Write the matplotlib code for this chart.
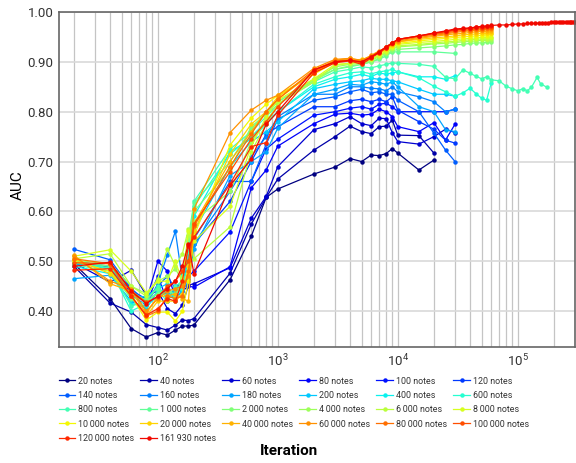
import numpy as np
import matplotlib
matplotlib.use("Agg")
import matplotlib.pyplot as plt
from matplotlib.ticker import FixedLocator, FormatStrFormatter

plt.rcParams['font.family'] = ['Liberation Sans Narrow', 'Roboto', 'DejaVu Sans']

# iterations shared by all runs
iters = [20, 40, 60, 80, 100, 120, 140, 160, 180, 200, 400, 600, 800, 1000,
         2000, 3000, 4000, 5000, 6000, 7000, 8000, 9000, 10000]
tail_20k = [15000, 20000]
tail_30k = [15000, 20000, 25000, 30000]
tail_30k_sparse = [20000, 30000]
tail_60k = [15000, 20000, 25000, 30000, 35000, 40000, 45000, 50000, 55000, 60000]
tail_175k = tail_60k + [70000, 80000, 90000, 100000, 110000, 120000, 130000,
                        145000, 155000, 175000]
tail_300k = tail_60k + [70000, 80000, 90000, 100000, 110000, 120000, 130000,
                        140000, 150000, 160000, 170000, 180000, 190000, 200000,
                        210000, 220000, 230000, 240000, 250000, 260000, 270000,
                        280000, 290000, 300000]

labels = ['20 notes', '40 notes', '60 notes', '80 notes', '100 notes', '120 notes',
          '140 notes', '160 notes', '180 notes', '200 notes', '400 notes', '600 notes',
          '800 notes', '1\u2009000 notes', '2\u2009000 notes', '4\u2009000 notes',
          '6\u2009000 notes', '8\u2009000 notes', '10\u2009000 notes', '20\u2009000 notes',
          '40\u2009000 notes', '60\u2009000 notes', '80\u2009000 notes',
          '100\u2009000 notes', '120\u2009000 notes', '161\u2009930 notes']

auc_20 = [0.495, 0.425, 0.365, 0.348, 0.357, 0.352, 0.362, 0.370, 0.370, 0.372,
          0.463, 0.550, 0.628, 0.645, 0.675, 0.689, 0.706, 0.700, 0.713, 0.712,
          0.716, 0.726, 0.717,
          0.683, 0.703]
auc_40 = [0.490, 0.416, 0.398, 0.373, 0.367, 0.362, 0.372, 0.382, 0.381, 0.385,
          0.476, 0.574, 0.628, 0.665, 0.723, 0.750, 0.771, 0.760, 0.756, 0.770,
          0.771, 0.783, 0.753,
          0.752, 0.717]
auc_60 = [0.497, 0.458, 0.482, 0.432, 0.440, 0.405, 0.395, 0.412, 0.452, 0.455,
          0.487, 0.586, 0.630, 0.690, 0.764, 0.776, 0.790, 0.776, 0.772, 0.787,
          0.786, 0.758, 0.740,
          0.735, 0.750, 0.765, 0.758]
auc_80 = [0.493, 0.497, 0.435, 0.420, 0.500, 0.480, 0.425, 0.440, 0.450, 0.448,
          0.489, 0.647, 0.683, 0.731, 0.776, 0.795, 0.797, 0.793, 0.795, 0.805,
          0.800, 0.790, 0.770,
          0.760, 0.778, 0.743, 0.775]
auc_100 = [0.500, 0.488, 0.445, 0.415, 0.470, 0.420, 0.450, 0.455, 0.470, 0.480,
           0.559, 0.660, 0.725, 0.745, 0.793, 0.800, 0.807, 0.810, 0.805, 0.815,
           0.817, 0.810, 0.800,
           0.800, 0.800, 0.800, 0.805]
auc_120 = [0.497, 0.485, 0.440, 0.425, 0.445, 0.435, 0.430, 0.450, 0.465, 0.535,
           0.620, 0.700, 0.755, 0.770, 0.810, 0.810, 0.822, 0.825, 0.820, 0.825,
           0.820, 0.830, 0.803,
           0.780, 0.765, 0.743, 0.737]
auc_140 = [0.524, 0.503, 0.445, 0.420, 0.450, 0.470, 0.445, 0.455, 0.500, 0.545,
           0.660, 0.660, 0.735, 0.785, 0.823, 0.830, 0.840, 0.845, 0.838, 0.840,
           0.835, 0.835, 0.823,
           0.800, 0.757, 0.723, 0.700]
auc_160 = [0.500, 0.490, 0.432, 0.412, 0.455, 0.513, 0.560, 0.463, 0.510, 0.535,
           0.640, 0.710, 0.750, 0.790, 0.835, 0.835, 0.850, 0.850, 0.847, 0.846,
           0.842, 0.850, 0.840,
           0.830, 0.820, 0.800, 0.805]
auc_180 = [0.465, 0.472, 0.420, 0.405, 0.440, 0.435, 0.425, 0.440, 0.460, 0.525,
           0.672, 0.700, 0.720, 0.767, 0.835, 0.845, 0.855, 0.853, 0.860, 0.858,
           0.855, 0.860, 0.850,
           0.810, 0.800, 0.764, 0.760]
auc_200 = [0.495, 0.490, 0.425, 0.430, 0.445, 0.455, 0.420, 0.445, 0.470, 0.560,
           0.690, 0.740, 0.760, 0.780, 0.846, 0.855, 0.860, 0.862, 0.867, 0.865,
           0.865, 0.862, 0.860,
           0.845, 0.835, 0.835, 0.831]
auc_400 = [0.490, 0.475, 0.415, 0.410, 0.430, 0.440, 0.435, 0.455, 0.540, 0.590,
           0.720, 0.745, 0.775, 0.800, 0.850, 0.865, 0.870, 0.875, 0.870, 0.878,
           0.875, 0.878, 0.880,
           0.870, 0.870, 0.865, 0.872]
auc_600 = [0.497, 0.485, 0.400, 0.415, 0.440, 0.420, 0.440, 0.445, 0.500, 0.610,
           0.715, 0.750, 0.780, 0.800, 0.855, 0.870, 0.878, 0.880, 0.876, 0.880,
           0.882, 0.885, 0.880,
           0.868, 0.851, 0.840, 0.831, 0.838, 0.847, 0.836, 0.827, 0.823, 0.857]
auc_800 = [0.500, 0.486, 0.410, 0.420, 0.450, 0.425, 0.450, 0.460, 0.520, 0.620,
           0.725, 0.760, 0.790, 0.815, 0.860, 0.880, 0.885, 0.890, 0.888, 0.892,
           0.895, 0.898, 0.897,
           0.895, 0.891, 0.869, 0.866, 0.884, 0.877, 0.871, 0.866, 0.870, 0.864,
           0.862, 0.851, 0.846, 0.842, 0.846, 0.842, 0.849, 0.869, 0.856, 0.849]
auc_1k = [0.493, 0.480, 0.425, 0.425, 0.445, 0.430, 0.425, 0.470, 0.550, 0.617,
          0.700, 0.765, 0.800, 0.820, 0.865, 0.885, 0.890, 0.895, 0.900, 0.905,
          0.912, 0.920, 0.920,
          0.920, 0.917]
auc_2k = [0.500, 0.490, 0.440, 0.420, 0.435, 0.445, 0.430, 0.465, 0.545, 0.600,
          0.685, 0.770, 0.795, 0.820, 0.862, 0.885, 0.892, 0.895, 0.900, 0.907,
          0.915, 0.922, 0.925,
          0.928, 0.930, 0.932, 0.934, 0.935, 0.937, 0.938, 0.938, 0.939, 0.940]
auc_4k = [0.502, 0.495, 0.450, 0.435, 0.460, 0.470, 0.485, 0.460, 0.550, 0.580,
          0.640, 0.740, 0.780, 0.815, 0.865, 0.890, 0.895, 0.897, 0.903, 0.910,
          0.918, 0.925, 0.930,
          0.933, 0.936, 0.937, 0.939, 0.940, 0.941, 0.942, 0.943, 0.943, 0.944]
auc_6k = [0.505, 0.515, 0.450, 0.430, 0.465, 0.525, 0.490, 0.515, 0.565, 0.505,
          0.569, 0.720, 0.775, 0.815, 0.860, 0.893, 0.897, 0.900, 0.905, 0.912,
          0.920, 0.927, 0.932,
          0.935, 0.938, 0.940, 0.941, 0.943, 0.944, 0.945, 0.946, 0.946, 0.947]
auc_8k = [0.510, 0.523, 0.480, 0.437, 0.460, 0.460, 0.500, 0.460, 0.560, 0.540,
          0.610, 0.730, 0.790, 0.823, 0.866, 0.895, 0.897, 0.900, 0.906, 0.914,
          0.922, 0.930, 0.935,
          0.939, 0.941, 0.943, 0.945, 0.946, 0.947, 0.948, 0.949, 0.949, 0.950]
auc_10k = [0.500, 0.480, 0.430, 0.382, 0.398, 0.398, 0.380, 0.400, 0.460, 0.550,
           0.733, 0.787, 0.815, 0.833, 0.875, 0.900, 0.905, 0.903, 0.910, 0.918,
           0.925, 0.932, 0.937,
           0.942, 0.945, 0.947, 0.949, 0.950, 0.951, 0.952, 0.953, 0.954, 0.955]
auc_20k = [0.505, 0.475, 0.430, 0.390, 0.420, 0.420, 0.420, 0.435, 0.490, 0.560,
           0.715, 0.775, 0.800, 0.830, 0.878, 0.900, 0.903, 0.905, 0.910, 0.917,
           0.925, 0.933, 0.940,
           0.945, 0.948, 0.950, 0.952, 0.954, 0.955, 0.956, 0.957, 0.957, 0.958]
auc_40k = [0.512, 0.455, 0.440, 0.395, 0.430, 0.430, 0.435, 0.425, 0.420, 0.575,
           0.700, 0.760, 0.800, 0.825, 0.880, 0.903, 0.907, 0.902, 0.912, 0.920,
           0.928, 0.935, 0.940,
           0.947, 0.951, 0.954, 0.956, 0.957, 0.959, 0.960, 0.961, 0.961, 0.962]
auc_60k = [0.510, 0.460, 0.445, 0.400, 0.425, 0.440, 0.445, 0.450, 0.470, 0.605,
           0.758, 0.803, 0.823, 0.833, 0.887, 0.905, 0.907, 0.903, 0.913, 0.922,
           0.928, 0.936, 0.942,
           0.949, 0.953, 0.956, 0.959, 0.961, 0.962, 0.963, 0.964, 0.965, 0.966]
auc_80k = [0.505, 0.495, 0.430, 0.390, 0.400, 0.430, 0.425, 0.430, 0.480, 0.570,
           0.690, 0.755, 0.800, 0.825, 0.884, 0.902, 0.904, 0.900, 0.910, 0.920,
           0.930, 0.937, 0.944,
           0.951, 0.955, 0.958, 0.961, 0.963, 0.964, 0.965, 0.966, 0.967, 0.968]
auc_100k = [0.497, 0.495, 0.440, 0.418, 0.428, 0.450, 0.460, 0.480, 0.500, 0.575,
            0.680, 0.745, 0.780, 0.810, 0.882, 0.900, 0.903, 0.898, 0.910, 0.920,
            0.930, 0.938, 0.945,
            0.952, 0.957, 0.960, 0.963, 0.965, 0.966, 0.967, 0.968, 0.969, 0.970]
auc_120k = [0.482, 0.485, 0.430, 0.392, 0.405, 0.425, 0.420, 0.460, 0.530, 0.548,
            0.655, 0.730, 0.738, 0.793, 0.878, 0.898, 0.902, 0.895, 0.908, 0.918,
            0.928, 0.937, 0.945,
            0.952, 0.957, 0.961, 0.964, 0.966, 0.968, 0.969, 0.970, 0.971, 0.972]
auc_162k = [0.490, 0.498, 0.440, 0.415, 0.430, 0.445, 0.460, 0.490, 0.535, 0.475,
            0.652, 0.705, 0.775, 0.800, 0.884, 0.900, 0.903, 0.900, 0.910, 0.920,
            0.930, 0.938, 0.945,
            0.952, 0.958, 0.962, 0.966, 0.967, 0.968, 0.970, 0.971, 0.972, 0.973,
            0.974, 0.974, 0.975, 0.976, 0.976, 0.977, 0.977, 0.977, 0.978, 0.978,
            0.978, 0.978, 0.979, 0.979, 0.979, 0.979, 0.979, 0.980, 0.980, 0.980,
            0.980, 0.980, 0.980, 0.980]

series = [auc_20, auc_40, auc_60, auc_80, auc_100, auc_120, auc_140, auc_160,
          auc_180, auc_200, auc_400, auc_600, auc_800, auc_1k, auc_2k, auc_4k,
          auc_6k, auc_8k, auc_10k, auc_20k, auc_40k, auc_60k, auc_80k, auc_100k,
          auc_120k, auc_162k]
tails = [tail_20k, tail_20k] + [tail_30k] * 9 + [tail_60k, tail_175k, tail_30k_sparse] \
        + [tail_60k] * 11 + [tail_300k]

colors = plt.cm.jet(np.linspace(0, 0.9, len(series)))

fig = plt.figure(figsize=(5.76, 4.63), dpi=100)
ax = fig.add_axes([59 / 576, 1 - 347 / 463, 516 / 576, 335 / 463])

handles = []
for vals, tail, col, lab in zip(series, tails, colors, labels):
    xs = iters + tail
    h, = ax.plot(xs, vals, '-o', color=col, lw=0.9, ms=2.2, mec=col, label=lab)
    handles.append(h)

ax.set_xscale('log')
ax.set_xlim(15, 3e5)
ax.set_ylim(0.328, 1.0)
ax.yaxis.set_major_locator(FixedLocator([0.4, 0.5, 0.6, 0.7, 0.8, 0.9, 1.0]))
ax.yaxis.set_major_formatter(FormatStrFormatter('%.2f'))
ax.grid(True, axis='y', color='#d9d9d9', lw=1.2)
ax.grid(True, axis='x', which='both', color='#c4c4c4', lw=0.9)
ax.set_axisbelow(True)
ax.tick_params(which='both', length=0, labelsize=9.5, colors='#333333', pad=4)
for s in ax.spines.values():
    s.set_color('#666666')
    s.set_linewidth(1.2)

# legend filled row by row, like the original
order = [r * 6 + c for c in range(6) for r in range(5) if r * 6 + c < len(handles)]
fig.legend([handles[i] for i in order], [labels[i] for i in order],
           loc='upper left', bbox_to_anchor=(55 / 576, 1 - 373 / 463), ncol=6,
           frameon=False, fontsize=6.4, handlelength=1.9, handletextpad=0.3,
           columnspacing=0.7, labelspacing=0.6, borderaxespad=0,
           labelcolor='#333333')

fig.text(289 / 576, 1 - 451 / 463, 'Iteration', ha='center', va='center',
         fontsize=11, fontweight='bold')
fig.text(18 / 576, 1 - 185 / 463, 'AUC', ha='center', va='center',
         rotation=90, fontsize=11)

fig.savefig('out.png', dpi=100)
